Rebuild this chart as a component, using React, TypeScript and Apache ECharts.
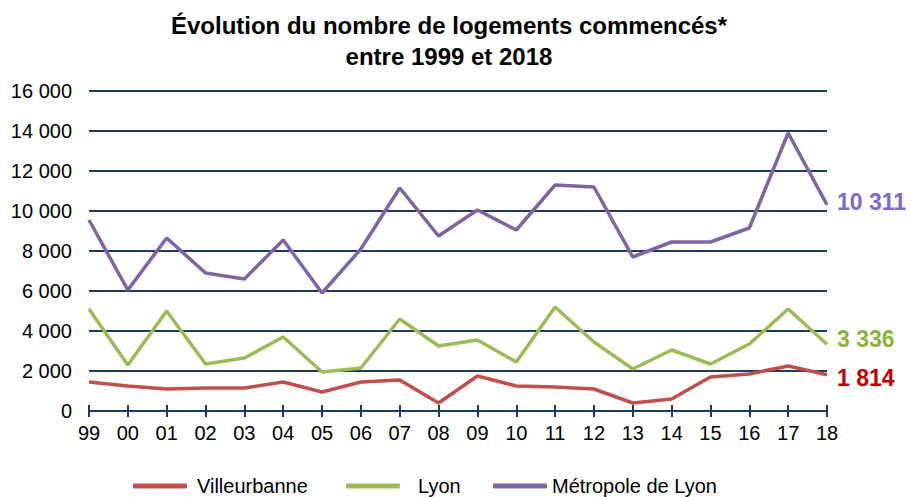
import React, { useEffect, useRef } from "react";
import * as echarts from "echarts";

const years = ["99", "00", "01", "02", "03", "04", "05", "06", "07", "08", "09", "10", "11", "12", "13", "14", "15", "16", "17", "18"];
const villeurbanne = [1450, 1250, 1100, 1150, 1150, 1450, 950, 1450, 1550, 400, 1750, 1250, 1200, 1100, 400, 600, 1700, 1850, 2250, 1814];
const lyon = [5100, 2300, 5000, 2350, 2650, 3700, 1950, 2150, 4600, 3250, 3550, 2450, 5200, 3450, 2100, 3050, 2350, 3350, 5100, 3336];
const metropole = [9550, 6050, 8650, 6900, 6600, 8550, 5900, 8100, 11150, 8750, 10050, 9050, 11300, 11200, 7700, 8450, 8450, 9150, 13900, 10311];
const seriesNames = ["Villeurbanne", "Lyon", "Métropole de Lyon"];
const titleText = "Évolution du nombre de logements commencés*\nentre 1999 et 2018";

const FONT = 'Arial, "Liberation Sans", sans-serif';
const fmt = (v: number) => String(v).replace(/\B(?=(\d{3})+(?!\d))/g, " ");

export default function App() {
  const ref = useRef<HTMLDivElement>(null);
  useEffect(() => {
    if (!ref.current) return;
    const chart = echarts.init(ref.current, null, { renderer: "svg" });
    const mk = (name: string, data: number[], color: string, labelColor: string, dy: number) => ({
      name,
      type: "line",
      data,
      showSymbol: false,
      symbol: "none",
      lineStyle: { color, width: 3.5 },
      itemStyle: { color },
      endLabel: {
        show: true,
        formatter: (p: any) => fmt(p.value),
        color: labelColor,
        fontFamily: FONT,
        fontWeight: "bold",
        fontSize: 23,
        distance: 10,
        offset: [0, dy],
      },
    });
    chart.setOption({
      animation: false,
      graphic: [
        {
          type: "text",
          x: 449,
          y: 41,
          style: {
            text: titleText,
            font: `bold 24px ${FONT}`,
            fill: "#000",
            textAlign: "center",
            textVerticalAlign: "middle",
            lineHeight: 31,
          },
        },
      ],
      grid: { left: 89, right: 84, top: 91, bottom: 86 },
      legend: [
        { left: 133, data: [seriesNames[0]], pad: 5 },
        { left: 346, data: [seriesNames[1]], pad: 13 },
        { left: 493, data: [seriesNames[2]], pad: 0 },
      ].map((l) => ({
        left: l.left,
        data: l.data,
        top: 476,
        padding: 0,
        icon: "roundRect",
        itemWidth: 54,
        itemHeight: 5,
        itemGap: 0,
        textStyle: { fontFamily: FONT, fontSize: 20, color: "#000", padding: [0, 0, 0, l.pad] },
      })),
      xAxis: [
        {
          type: "category",
          data: years,
          boundaryGap: false,
          position: "bottom",
          axisLine: { show: true, lineStyle: { color: "#1F3A60", width: 2 } },
          axisTick: { show: true, length: 6, lineStyle: { color: "#1F3A60", width: 2 } },
          axisLabel: { fontFamily: FONT, fontSize: 20, color: "#000", margin: 12 },
          splitLine: { show: false },
        },
        {
          type: "category",
          data: years,
          boundaryGap: false,
          position: "bottom",
          offset: 0,
          axisLine: { show: false },
          axisTick: { show: true, inside: true, length: 6, lineStyle: { color: "#1F3A60", width: 2 } },
          axisLabel: { show: false },
          splitLine: { show: false },
        },
      ],
      yAxis: {
        type: "value",
        min: 0,
        max: 16000,
        interval: 2000,
        axisLine: { show: false },
        axisTick: { show: false },
        axisLabel: { fontFamily: FONT, fontSize: 20, color: "#000", margin: 17, formatter: (v: number) => fmt(v) },
        splitLine: { lineStyle: { color: "#1F3A60", width: 2 } },
      },
      series: [
        mk(seriesNames[0], villeurbanne, "#C0504D", "#C00000", 3),
        mk(seriesNames[1], lyon, "#9BBB59", "#8CB43A", -5),
        mk(seriesNames[2], metropole, "#8064A2", "#7F68C8", -3),
      ],
    });
    return () => chart.dispose();
  }, []);
  return <div ref={ref} style={{ width: 911, height: 497, position: "absolute", left: 0, top: 0 }} />;
}
